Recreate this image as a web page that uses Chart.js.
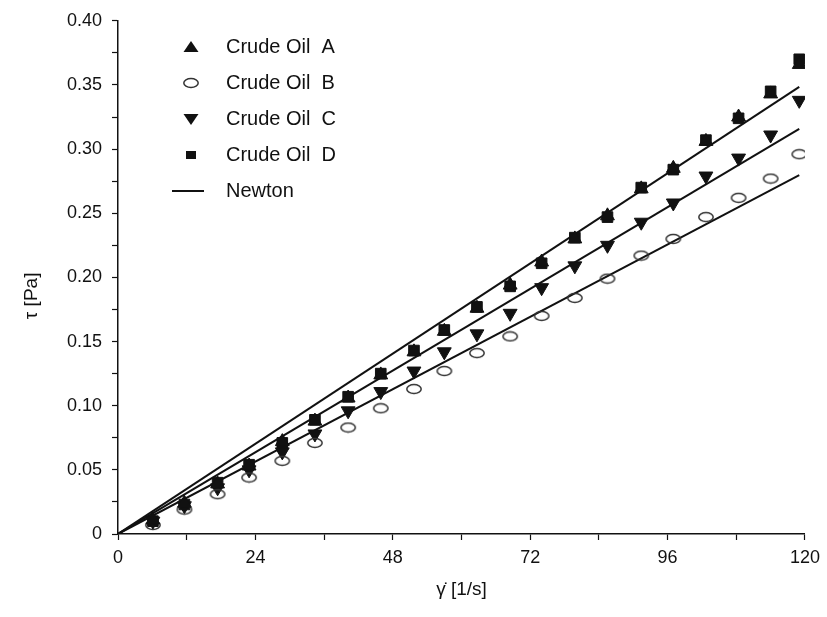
<!DOCTYPE html>
<html>
<head>
<meta charset="utf-8">
<script src="https://cdn.jsdelivr.net/npm/chart.js@4.4.1/dist/chart.umd.min.js"></script>
<style>
  html, body { margin: 0; padding: 0; background: #fff; }
</style>
</head>
<body>
<canvas id="chart" width="827" height="617"></canvas>
<script>
// shear rate [1/s] of the measured points
const shearRate = [6.1, 11.6, 17.4, 22.9, 28.7, 34.4, 40.2, 45.9, 51.7, 57.0, 62.7, 68.5, 74.0, 79.8, 85.5, 91.4, 97.0, 102.7, 108.4, 114.0, 119.0];

// shear stress [Pa]
const oilA = [0.011, 0.024, 0.039, 0.053, 0.072, 0.088, 0.106, 0.124, 0.142, 0.158, 0.176, 0.194, 0.212, 0.230, 0.248, 0.269, 0.285, 0.306, 0.325, 0.343, 0.366];
const oilB = [0.007, 0.019, 0.031, 0.044, 0.057, 0.071, 0.083, 0.098, 0.113, 0.127, 0.141, 0.154, 0.170, 0.184, 0.199, 0.217, 0.230, 0.247, 0.262, 0.277, 0.296];
const oilC = [0.010, 0.022, 0.036, 0.050, 0.064, 0.078, 0.096, 0.111, 0.127, 0.142, 0.156, 0.172, 0.192, 0.209, 0.225, 0.243, 0.258, 0.279, 0.293, 0.311, 0.338];
const oilD = [0.010, 0.023, 0.040, 0.054, 0.071, 0.089, 0.107, 0.125, 0.143, 0.159, 0.177, 0.193, 0.211, 0.231, 0.247, 0.270, 0.284, 0.307, 0.324, 0.345, 0.370];

// Newton fits (straight lines from the origin)
const newtonX = [0, 119];
const newtonAD = [0, 0.3485];
const newtonC = [0, 0.3158];
const newtonB = [0, 0.2798];

const legendLabels = ['Crude Oil  A', 'Crude Oil  B', 'Crude Oil  C', 'Crude Oil  D', 'Newton'];

const ink = '#111';
const fontFamily = 'Arial, "Liberation Sans", sans-serif';

const toPoints = (xs, ys) => xs.map((x, i) => ({ x: x, y: ys[i] }));

// open ellipse used for oil B
const ellipse = document.createElement('canvas');
ellipse.width = 18;
ellipse.height = 12;
(() => {
    const c = ellipse.getContext('2d');
    c.strokeStyle = '#333';
    c.lineWidth = 1.5;
    c.beginPath();
    c.ellipse(9, 6, 7.2, 4.4, 0, 0, Math.PI * 2);
    c.stroke();
})();

const drawMarker = (ctx, kind, x, y) => {
    ctx.fillStyle = ink;
    ctx.strokeStyle = ink;
    ctx.beginPath();
    if (kind === 'up') {
        ctx.moveTo(x - 7.5, y + 5);
        ctx.lineTo(x + 7.5, y + 5);
        ctx.lineTo(x, y - 6);
        ctx.closePath();
        ctx.fill();
    } else if (kind === 'down') {
        ctx.moveTo(x - 7.5, y - 5);
        ctx.lineTo(x + 7.5, y - 5);
        ctx.lineTo(x, y + 6);
        ctx.closePath();
        ctx.fill();
    } else if (kind === 'square') {
        ctx.fillRect(x - 5, y - 4, 10, 8);
    } else if (kind === 'ellipse') {
        ctx.drawImage(ellipse, x - 9, y - 6);
    } else {
        ctx.lineWidth = 2;
        ctx.moveTo(x - 10, y);
        ctx.lineTo(x + 22, y);
        ctx.stroke();
    }
};

const legendPlugin = {
    id: 'oilLegend',
    afterDraw(chart) {
        const ctx = chart.ctx;
        const kinds = ['up', 'ellipse', 'down', 'square', 'line'];
        ctx.save();
        legendLabels.forEach((label, i) => {
            const y = 47 + i * 36;
            drawMarker(ctx, kinds[i], i === 4 ? 182 : 191, y);
            ctx.fillStyle = ink;
            ctx.font = '20px ' + fontFamily;
            ctx.textBaseline = 'middle';
            ctx.textAlign = 'left';
            ctx.fillText(label, 226, y);
        });
        ctx.restore();
    }
};

const lineSet = (ys) => ({
    data: toPoints(newtonX, ys),
    showLine: true,
    borderColor: ink,
    borderWidth: 2,
    pointRadius: 0,
    order: 2
});

const pointSet = (ys, style, extra) => Object.assign({
    data: toPoints(shearRate, ys),
    showLine: false,
    pointStyle: style,
    pointRadius: 7.5,
    pointBackgroundColor: ink,
    pointBorderColor: ink,
    pointBorderWidth: 1,
    order: 1
}, extra);

const chart = new Chart(document.getElementById('chart'), {
    type: 'scatter',
    data: {
        datasets: [
            lineSet(newtonAD),
            lineSet(newtonC),
            lineSet(newtonB),
            pointSet(oilA, 'triangle', { pointRadius: 8 }),
            pointSet(oilB, ellipse, {}),
            pointSet(oilC, 'triangle', { pointRadius: 8, pointRotation: 180 }),
            pointSet(oilD, 'rect', {})
        ]
    },
    options: {
        responsive: false,
        animation: false,
        layout: { padding: { top: 16, right: 19, left: 0, bottom: 0 } },
        plugins: {
            legend: { display: false },
            tooltip: { enabled: false }
        },
        scales: {
            x: {
                type: 'linear',
                min: 0,
                max: 120,
                afterFit: (scale) => { scale.height = 83; },
                ticks: {
                    stepSize: 12,
                    color: ink,
                    padding: 7,
                    maxRotation: 0,
                    autoSkip: false,
                    font: { size: 18, family: fontFamily },
                    callback: (v) => (v % 24 === 0 ? String(v) : '')
                },
                grid: { drawOnChartArea: false, tickLength: 6, tickColor: ink, tickWidth: 1.2 },
                border: { color: ink, width: 1.5 },
                title: {
                    display: true,
                    text: '\u03B3\u0307 [1/s]',
                    color: ink,
                    font: { size: 19, family: fontFamily },
                    padding: { top: 4, bottom: 16 }
                }
            },
            y: {
                min: 0,
                max: 0.4,
                afterFit: (scale) => { scale.width = 118; },
                ticks: {
                    stepSize: 0.025,
                    color: ink,
                    padding: 10,
                    autoSkip: false,
                    font: { size: 18, family: fontFamily },
                    callback: (v) => {
                        const m = Math.round(v * 1000);
                        if (m % 50 !== 0) return '';
                        return m === 0 ? '0' : (m / 1000).toFixed(2);
                    }
                },
                grid: { drawOnChartArea: false, tickLength: 6, tickColor: ink, tickWidth: 1.2 },
                border: { color: ink, width: 1.5 },
                title: {
                    display: true,
                    // trailing spaces push the rotated title a little lower, as in the original
                    text: '\u03C4 [Pa]' + '\u00A0'.repeat(7),
                    color: ink,
                    font: { size: 19, family: fontFamily },
                    padding: { top: 20, bottom: 0 }
                }
            }
        }
    },
    plugins: [legendPlugin]
});
</script>
</body>
</html>
